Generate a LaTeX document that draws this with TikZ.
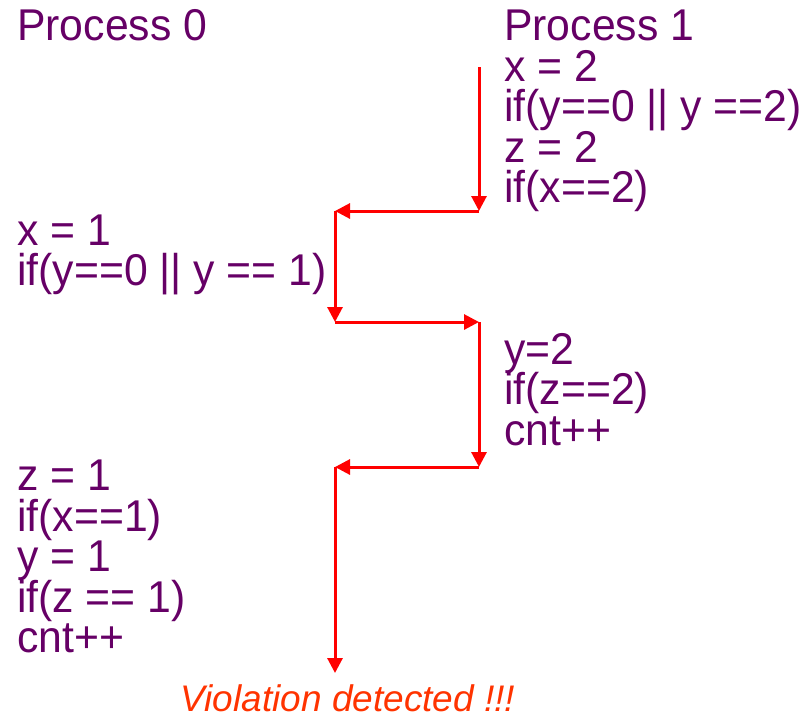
\documentclass[tikz,border=0pt]{standalone}
\usepackage{fontspec}
\setmainfont{Liberation Sans}
\newfontfamily\codefont[FakeStretch=0.96]{Liberation Sans}
\usetikzlibrary{arrows.meta}
\definecolor{txt}{HTML}{660066}
\definecolor{arr}{HTML}{FF0000}
\definecolor{viol}{HTML}{FF3300}
\begin{document}
\begin{tikzpicture}[x=1pt,y=-1pt,
  code/.style={anchor=base west, inner sep=0pt, text=txt, font=\codefont\fontsize{44.5pt}{44pt}\selectfont},
  warn/.style={anchor=base, inner sep=0pt, text=viol, font=\fontsize{37pt}{38pt}\selectfont\itshape},
  flow/.style={draw=arr, line width=3pt, -{Triangle[length=15pt,width=15pt]}},
  ]
\useasboundingbox (0,0) rectangle (810,716);
% Process 0
\node[code] (p0)  at (17,40)  {Process 0};
\node[code] (a1)  at (17,245) {x = 1};
\node[code] (a2)  at (17,285) {if(y==0 || y == 1)};
\node[code] (a3)  at (17,490) {z = 1};
\node[code] (a4)  at (17,531) {if(x==1)};
\node[code] (a5)  at (17,571) {y = 1};
\node[code] (a6)  at (17,612) {if(z == 1)};
\node[code] (a7)  at (17,652) {cnt++};
% Process 1
\node[code] (p1)  at (504,40)  {Process 1};
\node[code] (b1)  at (504,81)  {x = 2};
\node[code] (b2)  at (504,121) {if(y==0 || y ==2)};
\node[code] (b3)  at (504,162) {z = 2};
\node[code] (b4)  at (504,202) {if(x==2)};
\node[code] (b5)  at (504,364) {y=2};
\node[code] (b6)  at (504,404) {if(z==2)};
\node[code] (b7)  at (504,445) {cnt++};
% result
\node[warn] (v) at (348,711) {Violation detected !!!};
% flow path
\coordinate (c0) at (479,67);
\coordinate (c1) at (479,211);
\coordinate (c2) at (335,211);
\coordinate (c3) at (335,322);
\coordinate (c4) at (479,322);
\coordinate (c5) at (479,467);
\coordinate (c6) at (335,467);
\coordinate (c7) at (335,673);
\draw[flow] (c0) -- (c1);
\draw[flow] (c1) -- (c2);
\draw[flow] (c2) -- (c3);
\draw[flow] (c3) -- (c4);
\draw[flow] (c4) -- (c5);
\draw[flow] (c5) -- (c6);
\draw[flow] (c6) -- (c7);
\end{tikzpicture}
\end{document}
